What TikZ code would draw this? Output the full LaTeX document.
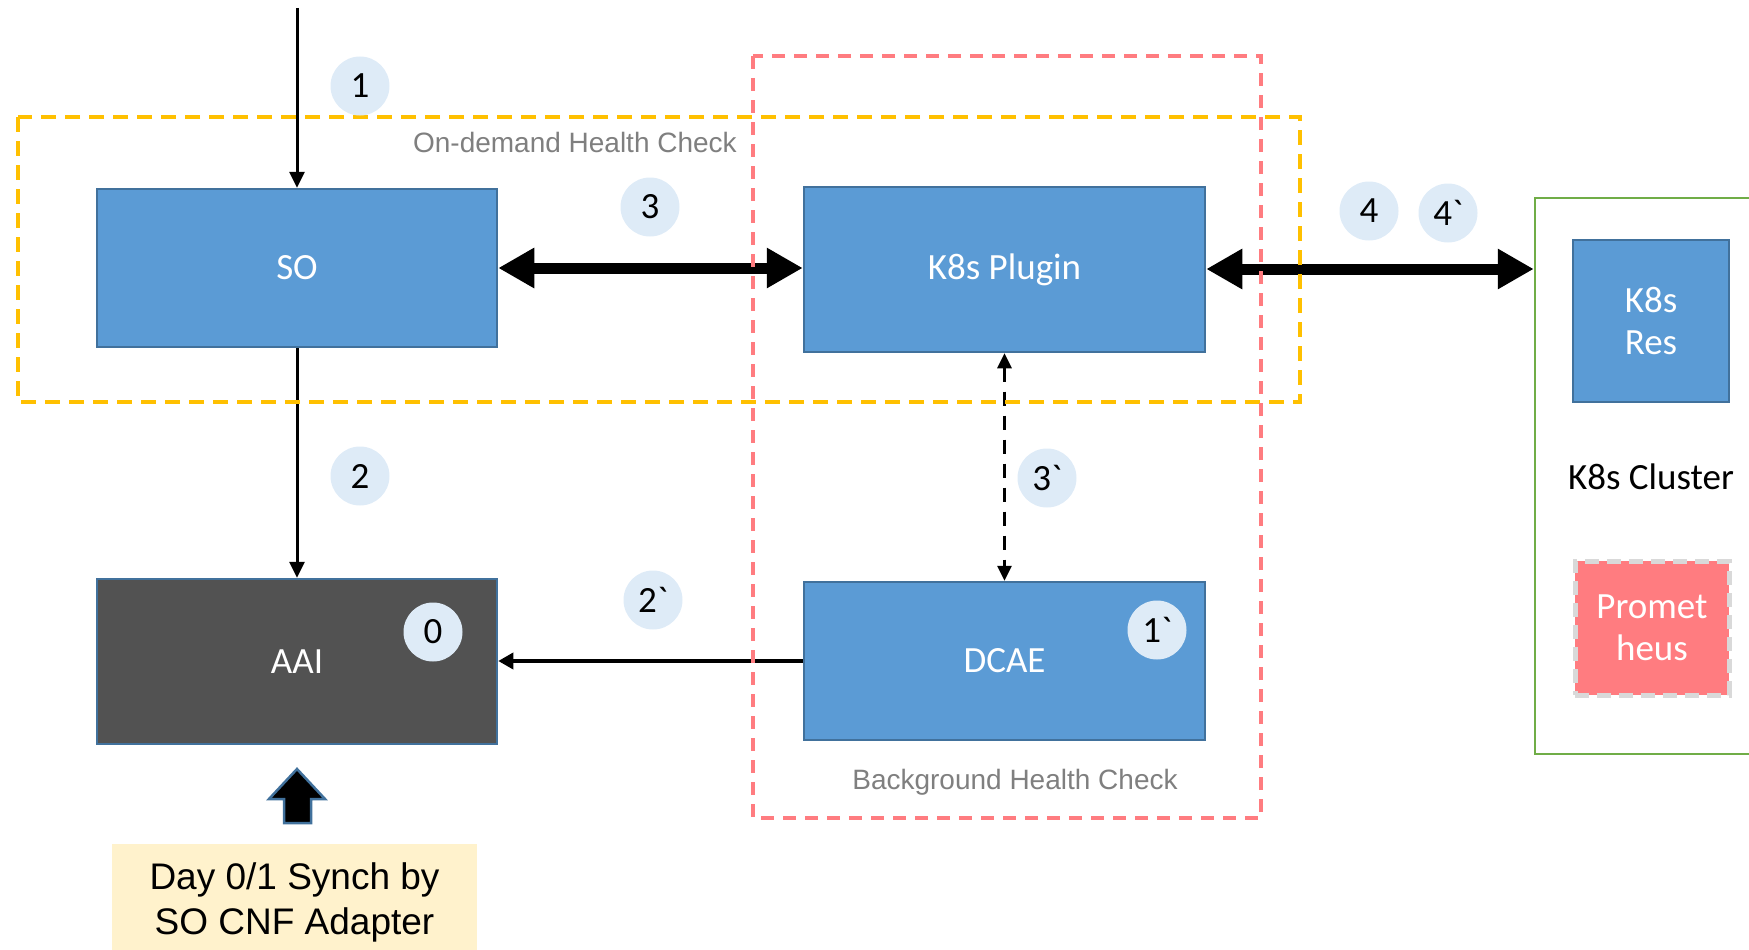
\documentclass[tikz,border=0pt]{standalone}
\usepackage{fontspec}
\setmainfont{Carlito}
\newfontfamily\arialf{Liberation Sans}
\usetikzlibrary{arrows.meta}
\definecolor{boxblue}{HTML}{5B9BD5}
\definecolor{boxedge}{HTML}{41719C}
\definecolor{aaigray}{HTML}{525252}
\definecolor{circfill}{HTML}{DEEBF7}
\definecolor{odyellow}{HTML}{FFC000}
\definecolor{bgred}{HTML}{FF7C80}
\definecolor{clgreen}{HTML}{70AD47}
\definecolor{notefill}{HTML}{FFF2CC}
\definecolor{promedge}{HTML}{D9D9D9}
\definecolor{labelgray}{HTML}{7F7F7F}
\begin{document}
\begin{tikzpicture}[x=1pt,y=-1pt,
  bigfont/.style={font=\fontsize{37}{44}\selectfont},
  comp/.style={draw=boxedge, line width=2.5pt, fill=boxblue, text=white, bigfont, inner sep=0pt, align=center},
  num/.style={circle, fill=circfill, minimum size=59pt, inner sep=0pt, font=\fontsize{37}{40}\selectfont},
  thinarrow/.style={line width=3pt, -{Triangle[width=15pt,length=16pt]}},
  thickarrow/.style={line width=11pt, {Triangle[width=38pt,length=36pt]}-{Triangle[width=38pt,length=36pt]}},
  groupyellow/.style={draw=odyellow, line width=4pt, dash pattern=on 15pt off 9pt},
  groupred/.style={draw=bgred, line width=3.5pt, dash pattern=on 13pt off 9pt},
  grouplabel/.style={text=labelgray, font=\arialf\fontsize{28}{32}\selectfont, inner sep=0pt}
]
\useasboundingbox (0,0) rectangle (1749,950);
\clip (0,0) rectangle (1749,950);

% main components
\node[comp, minimum width=400pt, minimum height=158pt] (so) at (297,268) {SO};
\node[comp, minimum width=401pt, minimum height=165pt] (k8s) at (1004.5,269.5) {K8s Plugin};
\node[comp, minimum width=401pt, minimum height=158pt] (dcae) at (1004.5,661) {DCAE};
\node[comp, fill=aaigray, minimum width=400pt, minimum height=165pt] (aai) at (297,661.5) {AAI};

% cluster
\node[draw=clgreen, line width=2.5pt, minimum width=240pt, minimum height=556pt, inner sep=0pt] (cluster) at (1655,476) {};
\node[comp, minimum width=156pt, minimum height=162pt] (res) at (1651,321) {K8s\\[-2pt]Res};
\node[bigfont, inner sep=0pt] (cllabel) at (1651,477) {K8s Cluster};
\node[fill=bgred, draw=promedge, line width=5pt, dash pattern=on 14pt off 8pt, text=white, bigfont, align=center, inner sep=0pt, minimum width=154pt, minimum height=134pt] (prom) at (1652,628) {Promet\\[-2pt]heus};

% note
\node[fill=notefill, minimum width=365pt, minimum height=116pt, inner sep=0pt] (note) at (294.5,902) {};
\node[font=\arialf\fontsize{37}{45}\selectfont, align=center, inner sep=0pt] (notetext) at (294.5,902) {Day 0/1 Synch by\\SO CNF Adapter};

% block arrow from note to AAI
\draw[fill=black, draw=boxedge, line width=2.5pt, line join=miter]
  (284,823) -- (311,823) -- (311,799) -- (325,799) -- (297,769) -- (269,799) -- (284,799) -- cycle;

% connectors
\coordinate (in) at (297,8);
\draw[thinarrow] (in) -- (so.north);
\draw[thinarrow] (so.south) -- (aai.north);
\draw[line width=3.5pt, -{Triangle[width=16pt,length=15pt]}] (dcae.west) -- (dcae.west -| aai.east);
\draw[thickarrow] (so.east |- 0,268) -- (k8s.west |- 0,268);
\draw[thickarrow] (k8s.east |- 0,269) -- (cluster.west |- 0,269);
\draw[line width=3pt, dash pattern=on 14pt off 10pt, {Triangle[width=14pt,length=15pt]}-{Triangle[width=14pt,length=15pt]}] (k8s.south) -- (dcae.north);

% groups
\draw[groupyellow] (18,117) rectangle (1300,402);
\draw[groupred] (753,56) rectangle (1261,818);
\node[grouplabel, anchor=east] (odlabel) at (737,142) {On-demand Health Check};
\node[grouplabel] (bglabel) at (1015,782) {Background Health Check};

% step markers
\node[num] (c1) at (360,86) {1};
\node[num] (c3) at (650,207) {3};
\node[num] (c4) at (1369,211) {4};
\node[num] (c4b) at (1448,213) {4\textasciigrave};
\node[num] (c2) at (360,476) {2};
\node[num] (c2b) at (653,600) {2\textasciigrave};
\node[num] (c0) at (433,632) {0};
\node[num] (c3b) at (1047,478) {3\textasciigrave};
\node[num] (c1b) at (1157,630) {1\textasciigrave};
\end{tikzpicture}
\end{document}
